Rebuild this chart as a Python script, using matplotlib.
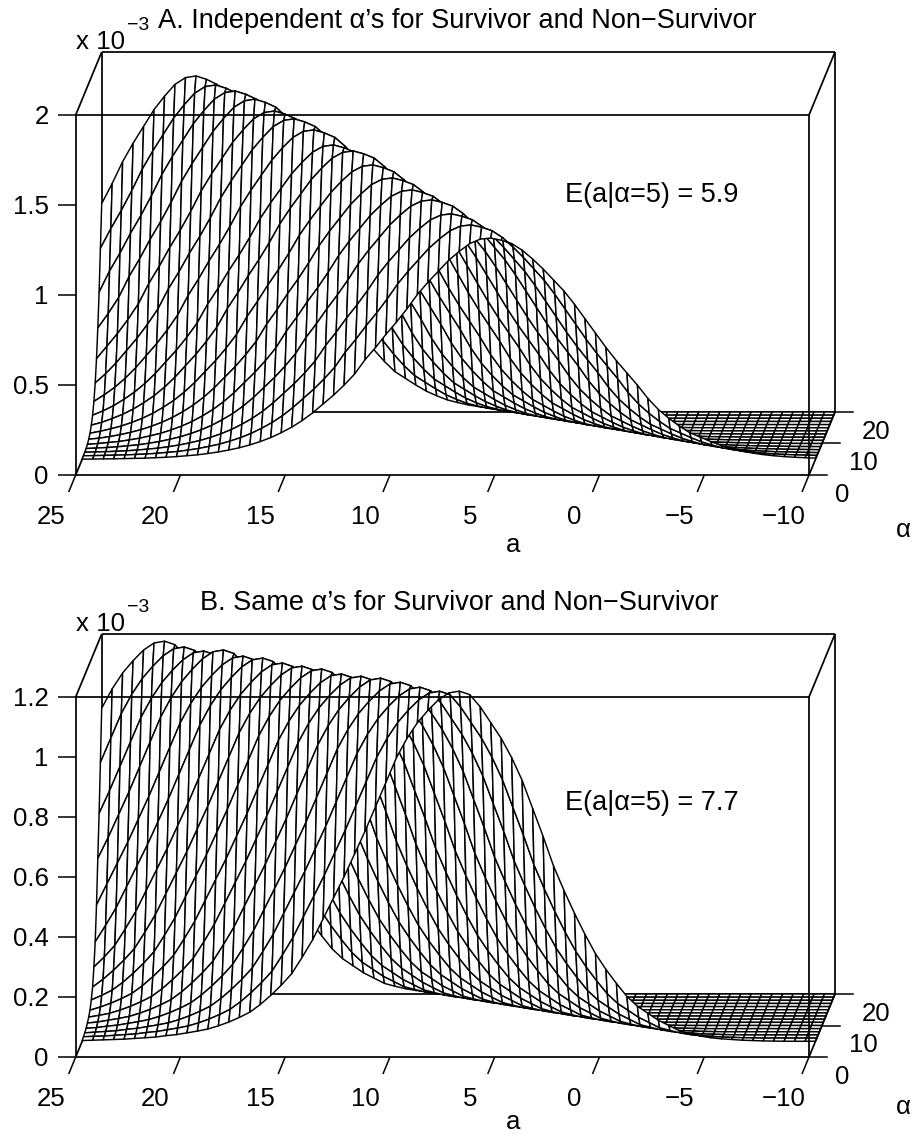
import numpy as np
import matplotlib
matplotlib.use("Agg")
import matplotlib.pyplot as plt
from matplotlib.collections import PolyCollection
from matplotlib.transforms import ScaledTranslation

plt.rcParams['font.family'] = ['Liberation Sans', 'DejaVu Sans']

# ---- data ----
a_ticks = [25, 20, 15, 10, 5, 0, -5, -10]
a_tick_labels = ['25', '20', '15', '10', '5', '0', '\u22125', '\u221210']
alpha_ticks = [0, 10, 20]
alpha_slices = [5, 6, 7, 8, 9, 10, 11, 12, 13, 14, 15, 16, 17, 18, 19, 20]

# peak height (x 10^-3) and peak position of each alpha slice, panel A
peak_z_A = [1.229, 1.284, 1.328, 1.388, 1.426, 1.475, 1.53, 1.59,
            1.606, 1.672, 1.716, 1.742, 1.79, 1.818, 1.834, 1.867]
peak_a_A = [5.5, 6.5, 7.5, 8.5, 9.5, 10.5, 11.5, 12.5,
            13.5, 14.5, 15.5, 16.5, 17.5, 18.5, 19.5, 20.5]
# height relative to the peak, per 0.5 step away from it (a above / below peak)
above_A = [1.0, .995, .975, .94, .90, .85, .80, .745, .68, .62, .565, .505, .45, .385, .335,
           .29, .25, .21, .175, .145, .12, .098, .08, .065, .052, .042, .033, .026, .02,
           .016, .012, .009, .007, .005, .004, .003, .002, .0015, .001, .0005, 0]
below_A = [1.0, .99, .975, .945, .905, .86, .81, .76, .70, .635, .57, .505, .445, .39, .335,
           .275, .225, .185, .15, .12, .10, .08, .062, .048, .036, .028, .021, .016, .012,
           .009, .007, .005, .004, .003, .002, .0015, .001, .0005, .0003, .0001, 0]

peak_z_B = [1.167, 1.156, 1.159, 1.165, 1.168, 1.164, 1.161, 1.167,
            1.166, 1.166, 1.172, 1.168, 1.178, 1.164, 1.167, 1.176]
peak_a_B = [7, 8, 9, 10, 11, 12, 13, 14, 15, 16, 17, 18, 19, 20, 21, 22]
above_B = [1.0, .995, .975, .945, .91, .865, .81, .74, .67, .60, .535, .47, .41, .35, .29,
           .24, .193, .16, .131, .105, .083, .068, .055, .044, .035, .029, .024, .019, .016,
           .012, .010, .008, .006, .005, .004, .003, .002, .0015, .001, .0005, 0]
below_B = [1.0, .99, .955, .91, .865, .81, .745, .665, .585, .50, .43, .365, .305, .25, .205,
           .165, .128, .10, .08, .06, .045, .03, .022, .015, .01, .007, .005, .003, .002,
           .001, .0005, 0]

z_ticks_A = [0, 0.5, 1, 1.5, 2]
z_labels_A = ['0', '0.5', '1', '1.5', '2']
z_ticks_B = [0, 0.2, 0.4, 0.6, 0.8, 1, 1.2]
z_labels_B = ['0', '0.2', '0.4', '0.6', '0.8', '1', '1.2']

W, H = 914, 1135
FS = 18.6
BIG = 19.5
fig = plt.figure(figsize=(W / 100, H / 100), dpi=100)

a_grid = np.arange(25, -10.01, -0.5)
PX_PER_A = 733.3 / 35


def surface(peaks, centres, above, below):
    out = np.zeros((len(peaks), len(a_grid)))
    for i, (p, c) in enumerate(zip(peaks, centres)):
        for j, a in enumerate(a_grid):
            n = int(round(abs(a - c) / 0.5))
            prof = above if a > c else below
            out[i, j] = p * (prof[n] if n < len(prof) else 0.0)
    return out


def panel(top_px, bot_px, zmax, zt, zl, Z, title, title_xy, note, note_y, aend_y):
    ax = fig.add_axes([75.7 / W, 1 - bot_px / H, 733.3 / W, (bot_px - top_px) / H])
    ax.set_xlim(25, -10)
    ax.set_ylim(0, zmax)
    ax.set_facecolor('none')
    upx = (bot_px - top_px) / zmax
    kx = 1.3 / PX_PER_A
    kz = 3.15 / upx

    def proj(a, al, z):
        return (np.asarray(a, float) - kx * np.asarray(al, float),
                np.asarray(z, float) + kz * np.asarray(al, float))

    def line(a, al, z, zo=1, lw=1.25):
        x, y = proj(a, al, z)
        ax.plot(x, y, color='k', lw=lw, clip_on=False, zorder=zo, solid_capstyle='butt')

    # back edges
    line([25, -10], [20, 20], [zmax, zmax])
    line([25, 25], [20, 20], [0, zmax])
    line([-10, -10], [20, 20], [0, zmax])
    line([25, -10], [20, 20], [0, 0])
    line([25, 25], [0, 20], [0, 0])
    line([-10, -10], [0, 20], [0, 0], zo=3)
    line([25, 25], [0, 20], [zmax, zmax], zo=3)
    line([-10, -10], [0, 20], [zmax, zmax], zo=3)

    # mesh, drawn from the far slice to the near one
    verts = []
    for i in range(len(alpha_slices) - 1, 0, -1):
        for j in range(len(a_grid) - 1):
            al0, al1 = alpha_slices[i], alpha_slices[i - 1]
            aa = [a_grid[j], a_grid[j + 1], a_grid[j + 1], a_grid[j]]
            ll = [al0, al0, al1, al1]
            zz = [Z[i, j], Z[i, j + 1], Z[i - 1, j + 1], Z[i - 1, j]]
            x, y = proj(aa, ll, zz)
            verts.append(np.column_stack([x, y]))
    pc = PolyCollection(verts, facecolors='white', edgecolors='k', linewidths=1.05,
                        zorder=2, clip_on=False)
    ax.add_collection(pc)

    # axes
    for s in ax.spines.values():
        s.set_linewidth(1.25)
        s.set_zorder(3)
    ax.set_yticks(zt)
    ax.set_yticklabels(zl, fontsize=FS)
    ax.tick_params(axis='y', length=13, width=1.1, pad=6.5)
    ax.set_xticks(a_ticks)
    ax.set_xticklabels(a_tick_labels, fontsize=FS)
    ax.tick_params(axis='x', length=0, pad=21.5)
    shift = ScaledTranslation(-25 / 100, 0, fig.dpi_scale_trans)
    for lab in ax.get_xticklabels():
        lab.set_transform(lab.get_transform() + shift)

    # slanted a ticks, alpha ticks
    for t in a_ticks:
        line([t, t], [0, -5.4], [0, 0], zo=3, lw=1.1)
    for t in alpha_ticks:
        x, y = proj(-10, t, 0)
        ax.plot([x, x - 18 / PX_PER_A], [y, y], color='k', lw=1.1, clip_on=False, zorder=3)
        ax.annotate(str(t), (x, y), xytext=(33 if t == 0 else 41, -20),
                    textcoords='offset pixels', fontsize=FS, ha='center', va='center',
                    annotation_clip=False)

    fx = lambda px: px / W
    fy = lambda py: 1 - py / H
    fig.text(fx(title_xy[0]), fy(title_xy[1]), title, fontsize=BIG, ha='left', va='baseline')
    fig.text(fx(76), fy(top_px - 73), 'x 10', fontsize=FS, ha='left', va='center')
    fig.text(fx(127), fy(top_px - 89), '\u22123', fontsize=14, ha='left', va='center')
    fig.text(fx(565), fy(note_y), note, fontsize=BIG, ha='left', va='center')
    fig.text(fx(513), fy(aend_y), 'a', fontsize=FS, ha='center', va='center')
    fig.text(fx(903), fy(aend_y - 15), '\u03b1', fontsize=FS, ha='center', va='center')


Z_A = surface(peak_z_A, peak_a_A, above_A, below_A)
Z_B = surface(peak_z_B, peak_a_B, above_B, below_B)

panel(115, 475, 2, z_ticks_A, z_labels_A, Z_A,
      'A. Independent \u03b1\u2019s for Survivor and Non\u2212Survivor', (158, 27.5),
      'E(a|\u03b1=5) = 5.9', 195, 545)
panel(697, 1057, 1.2, z_ticks_B, z_labels_B, Z_B,
      'B. Same \u03b1\u2019s for Survivor and Non\u2212Survivor', (200, 610),
      'E(a|\u03b1=5) = 7.7', 803, 1122)

fig.savefig('out.png', dpi=100)
